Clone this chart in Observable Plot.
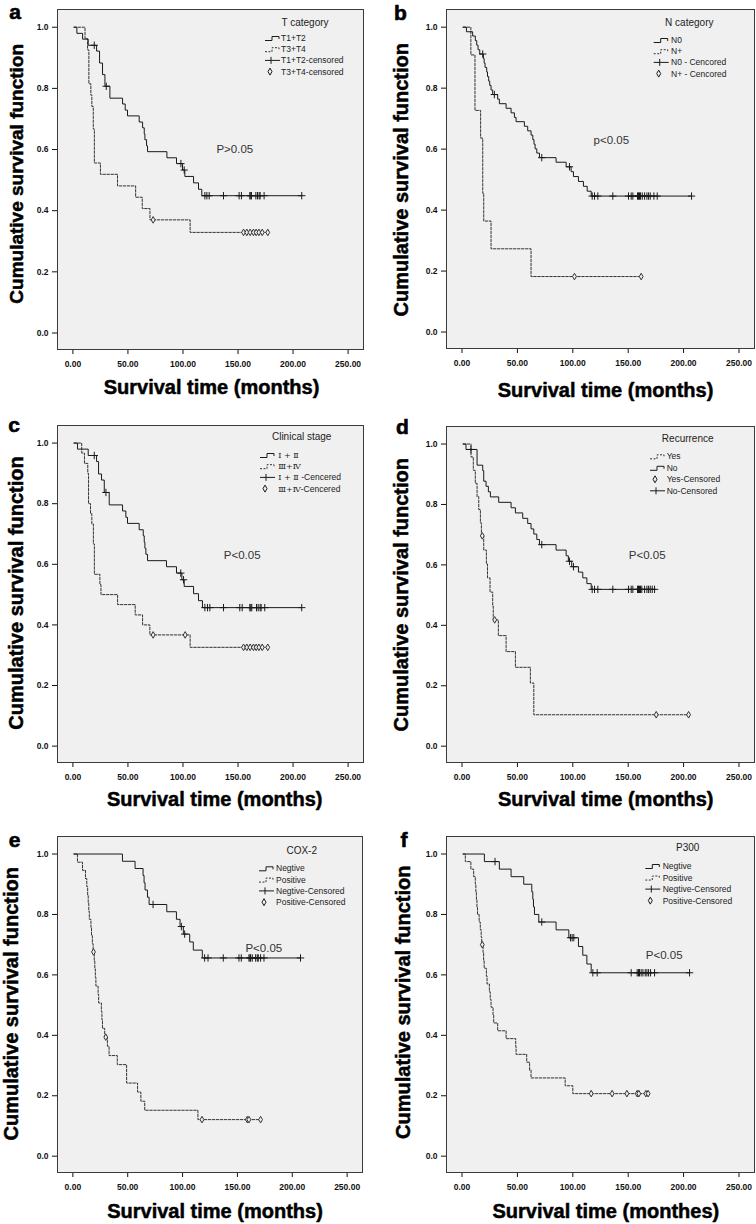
<!DOCTYPE html>
<html><head><meta charset="utf-8">
<script src="https://cdn.jsdelivr.net/npm/d3@7"></script>
<script src="https://cdn.jsdelivr.net/npm/@observablehq/plot@0.6"></script>
<style>
html,body{margin:0;padding:0;background:#fff;}
#page{position:relative;width:756px;height:1224px;overflow:hidden;background:#fff;}
.cell{position:absolute;}
.cell svg{overflow:visible;}
</style></head><body><div id="page"></div>
<script>
// ===================== DATA =====================
const xTicks = [0, 50, 100, 150, 200, 250];
const yTicks = [0, 0.2, 0.4, 0.6, 0.8, 1.0];
const xTitle = "Survival time (months)";
const xTitleF = "Survival time (monthes)";
const yTitle = "Cumulative survival function";
const panelLetters = ["a", "b", "c", "d", "e", "f"];
const legendTitles = ["T category", "N category", "Clinical stage", "Recurrence", "COX-2", "P300"];
const pTexts = ["P>0.05", "p<0.05", "P<0.05", "P<0.05", "P<0.05", "P<0.05"];
const aLabels = ["T1+T2", "T3+T4", "T1+T2-censored", "T3+T4-censored"];
const bLabels = ["N0", "N+", "N0 - Cencored", "N+ - Cencored"];
const cLabels = ["Ⅰ + Ⅱ", "Ⅲ+Ⅳ", "Ⅰ + Ⅱ -Cencered", "Ⅲ+Ⅳ-Cencered"];
const dLabels = ["Yes", "No", "Yes-Censored", "No-Censored"];
const eLabels = ["Negtive", "Positive", "Negtive-Censored", "Positive-Censored"];
const fLabels = ["Negtive", "Positive", "Negtive-Censored", "Positive-Censored"];

// Kaplan–Meier steps: [time (months), survival after the step]
const aT12 = [[1,1],[3.6,0.980],[8.8,0.961],[13.9,0.941],[21.5,0.922],[24.2,0.883],[26.9,0.845],[29.1,0.807],[33.6,0.768],[45.1,0.749],[47.5,0.729],[49.6,0.710],[60.2,0.690],[63.3,0.671],[64.8,0.651],[65.4,0.632],[66.9,0.612],[67.8,0.593],[85.4,0.573],[94.1,0.554],[99.6,0.533],[101.7,0.512],[109.6,0.491],[114.1,0.470],[117.1,0.449]];
const aT12Cens = [19.4,30.3,98.1,101.1,119.9,121.7,123.8,136.8,151.0,153.1,160.7,161.6,162.2,166.2,167.7,169.2,170.1,173.7,207.9];
const aT34 = [[1,1],[11,0.963],[13.3,0.926],[14.5,0.815],[16.3,0.778],[17.2,0.741],[18.5,0.667],[19.5,0.556],[25,0.519],[40.5,0.481],[57,0.444],[63,0.407],[70,0.370],[106.5,0.329]];
const aT34Cens = [72.9,155,158,161,164,166.5,169,172,177];

const bN0 = [[1,1],[4,0.985],[9.6,0.971],[12,0.956],[13.3,0.941],[14.5,0.926],[16,0.912],[19.3,0.897],[20,0.882],[20.8,0.868],[22.3,0.853],[23,0.838],[24.1,0.823],[25,0.809],[26.2,0.794],[27.7,0.779],[32.2,0.764],[33.7,0.749],[39.8,0.734],[44.3,0.719],[47.3,0.704],[48.8,0.690],[56.3,0.675],[59.3,0.660],[62.3,0.646],[63.9,0.631],[65,0.616],[66,0.601],[67.5,0.587],[69.9,0.572],[84.9,0.557],[94,0.542],[98.5,0.526],[100.6,0.510],[105.1,0.494],[109.6,0.478],[113,0.462],[116.6,0.446]];
const bN0Cens = [18.7,29.2,72,97,117.5,119.6,122.6,136.1,150.3,152.7,154.2,158.4,159.3,160.2,161.1,162.7,164.8,166.9,168.4,169.9,173.2,176.2,207.2];
const bNp = [[1,1],[8,0.909],[11.7,0.727],[16.8,0.636],[18.7,0.455],[19.6,0.364],[26.2,0.273],[62.3,0.182]];
const bNpCens = [101.5,161.7];

const cI2 = [[1,1],[4.2,0.980],[13.9,0.959],[21.5,0.939],[23.3,0.898],[26,0.878],[28.5,0.837],[33,0.796],[45.1,0.776],[48.1,0.755],[49.6,0.735],[60.2,0.714],[63.9,0.694],[64.8,0.673],[65.4,0.653],[66.3,0.633],[67.8,0.612],[85,0.592],[94.1,0.571],[99,0.549],[101.1,0.527],[109.6,0.503],[114.1,0.480],[117.7,0.457]];
const cI2Cens = [19.4,30,98,100.5,119.9,122.3,124.4,136.8,151.6,153.8,160.7,161.6,162.5,166.8,168.3,170.1,171,174.3,207.9];
const cIII4 = [[1,1],[8,0.967],[10.5,0.933],[13.5,0.900],[14.2,0.800],[16,0.767],[17.2,0.733],[18.6,0.667],[19.5,0.567],[24.5,0.533],[25.5,0.500],[40.6,0.467],[56.6,0.433],[63.3,0.400],[69.9,0.367],[106.5,0.326]];
const cIII4Cens = [72.9,102,155,158,161,164,166.5,169,172,177];

const dYes = [[1,1],[8.1,0.957],[10.2,0.913],[12,0.870],[13.6,0.826],[15.1,0.783],[16.6,0.739],[17.5,0.696],[19.6,0.649],[22,0.603],[23,0.557],[25.3,0.510],[27.7,0.464],[28.2,0.418],[32.8,0.366],[39.8,0.313],[48.2,0.261],[61.7,0.209],[64.8,0.104]];
const dYesCens = [18.3,29.5,175.3,204.5];
const dNo = [[1,1],[3.6,0.982],[13.6,0.930],[18.7,0.912],[19.6,0.877],[21.7,0.860],[23.8,0.842],[25.6,0.825],[33.1,0.807],[44.3,0.789],[48.2,0.772],[54.8,0.754],[59.3,0.737],[62.3,0.719],[64.8,0.702],[67.5,0.684],[69.9,0.667],[84.9,0.649],[94,0.630],[96,0.612],[99,0.594],[105.1,0.576],[109,0.557],[112.7,0.538],[116.6,0.519]];
const dNoCens = [8.1,72,97,100.6,117.5,119.6,122.6,136.1,150.3,152.7,154.2,158.4,159.3,160.2,161.1,162.3,164.8,166.9,168.4,169.9,171.7,173.8];

const eNeg = [[1,1],[45.2,0.976],[56.7,0.952],[64,0.929],[64.9,0.905],[65.8,0.881],[68,0.857],[69.5,0.833],[85.6,0.809],[94.4,0.784],[97.7,0.760],[100.7,0.735],[106.5,0.709],[109.8,0.682],[118,0.656]];
const eNegCens = [73.1,98.9,101.9,120.1,123.2,137.1,151.4,153.5,160.5,161.4,162,163.5,166.6,168.1,169,171.1,174.2,207.5];
const ePos = [[1,1],[4.2,0.973],[8.8,0.946],[11.5,0.919],[12.7,0.892],[13.5,0.865],[14,0.838],[14.5,0.811],[15,0.784],[16.5,0.757],[17,0.730],[17.8,0.703],[18.5,0.676],[19.5,0.648],[20,0.620],[20.5,0.592],[21,0.563],[23,0.535],[23.5,0.507],[26,0.479],[26.5,0.451],[27,0.423],[29,0.394],[31.5,0.364],[33,0.333],[40.5,0.303],[49,0.242],[59,0.212],[62,0.182],[65.5,0.152],[114,0.121]];
const ePosCens = [18.8,30,117.7,159,160.5,171.1];

const fNeg = [[1,1],[20.2,0.975],[33.7,0.950],[44.3,0.925],[55.7,0.900],[63,0.875],[63.9,0.850],[64.5,0.825],[65.4,0.800],[69.3,0.775],[84.9,0.749],[96.4,0.723],[105.1,0.694],[109,0.665],[112.7,0.636],[116.6,0.607]];
const fNegCens = [29.8,72,97.9,99.4,100.9,118.1,122,152.7,158.1,159.3,160.2,161.7,163.3,165.4,166.9,168.4,170.2,173.8,205.4];
const fPos = [[1,1],[3,0.975],[8,0.950],[10.5,0.925],[12,0.900],[12.5,0.875],[13,0.850],[13.5,0.825],[14,0.800],[15.5,0.775],[16.5,0.750],[17.3,0.725],[17.8,0.700],[19,0.674],[19.5,0.648],[20,0.622],[22,0.596],[22.6,0.570],[24.7,0.544],[25.5,0.519],[26.2,0.493],[28,0.467],[28.6,0.441],[32.2,0.415],[39.8,0.389],[48.5,0.363],[48.8,0.337],[58.4,0.311],[61,0.285],[62.3,0.259],[93.1,0.233],[100,0.207]];
const fPosCens = [18.3,116.6,135.5,148.8,158.1,159.6,166,168];

// ===================== LAYOUT / STYLE =====================
const FONT = "'Liberation Sans', Arial, Helvetica, sans-serif";
const BG = "#f0f0f0";
const panels = [
  {left: 0,   top: 0,   height: 405, m: [9, 15, 56, 57], solid: [aT12, aT12Cens], dashed: [aT34, aT34Cens], labels: aLabels, kinds: ["solid","dashed","plus","diamond"],
   letter: [-42.5, 9.8], p: [177.3, 135], xt: [1, 44], yt: [-34.3, -5.7], ytSize: 19, xTitle: xTitle,
   leg: {gx: -98, lx: -82, tx: -58, ty: 13, row0: 29, step: 11.2}},
  {left: 378, top: 0,   height: 405, m: [9, 2, 57, 68], solid: [bN0, bN0Cens], dashed: [bNp, bNpCens], labels: bLabels, kinds: ["solid","dashed","plus","diamond"],
   letter: [-46, 10], p: [164.8, 126.7], xt: [5, 48.7], yt: [-38.3, 0.7], ytSize: 20, xTitle: xTitle,
   leg: {gx: -100.3, lx: -83, tx: -64.7, ty: 13, row0: 31, step: 11.2}},
  {left: 0,   top: 405, height: 405, m: [20, 15, 48, 57], solid: [cI2, cI2Cens], dashed: [cIII4, cIII4Cens], labels: cLabels, kinds: ["solid","dashed","plus","diamond"],
   letter: [-43.3, 6.7], p: [184.7, 125.7], xt: [4.2, 43], yt: [-34.3, -1], ytSize: 20, xTitle: xTitle,
   leg: {gx: -103, lx: -84.7, tx: -61.3, ty: 11.7, row0: 30, step: 11.2}},
  {left: 378, top: 405, height: 405, m: [21, 2, 48, 68], solid: [dNo, dNoCens], dashed: [dYes, dYesCens], labels: dLabels, kinds: ["dashed","solid","diamond","plus"],
   letter: [-44.2, 7], p: [200.7, 124], xt: [5.2, 43], yt: [-38.3, 0.2], ytSize: 20, xTitle: xTitle,
   leg: {gx: -104, lx: -87.3, tx: -66.3, ty: 12.3, row0: 30.3, step: 11.5}},
  {left: 0,   top: 810, height: 414, m: [26, 16, 52, 57], solid: [eNeg, eNegCens], dashed: [ePos, ePosCens], labels: eLabels, kinds: ["solid","dashed","plus","diamond"],
   letter: [-43, 10.7], p: [206.3, 107.3], xt: [5, 45.3], yt: [-39.7, -0.7], ytSize: 20, xTitle: xTitle,
   leg: {gx: -103, lx: -86, tx: -60.3, ty: 14, row0: 32.3, step: 11.3}},
  {left: 378, top: 810, height: 414, m: [26, 2, 52, 68], solid: [fNeg, fNegCens], dashed: [fPos, fPosCens], labels: fLabels, kinds: ["solid","dashed","plus","diamond"],
   letter: [-42.5, 10.7], p: [217.7, 114.7], xt: [5.3, 45.3], yt: [-36.7, -2.3], ytSize: 20, xTitle: xTitleF,
   leg: {gx: -108.7, lx: -91.3, tx: -66.3, ty: 11.7, row0: 30, step: 11.55}}
];

// ===================== HELPERS =====================
function extendToLastCensor(steps, cens) {
  const last = steps[steps.length - 1];
  const tEnd = d3.max(cens);
  return tEnd > last[0] ? steps.concat([[tEnd, last[1]]]) : steps;
}
function survivalAt(steps, t) {
  let s = 1;
  for (const [st, sv] of steps) if (st <= t) s = sv;
  return s;
}
function legendMark(title, labels, kinds, L) {
  return function (index, scales, values, dim) {
    const fr = dim.width - dim.marginRight, ft = dim.marginTop;
    const g = d3.create("svg:g").attr("font-family", FONT).attr("font-weight", "normal")
      .attr("fill", "#222").attr("text-anchor", "start");
    g.append("text").attr("x", fr + L.tx).attr("y", ft + L.ty).attr("dy", "0.35em")
      .attr("text-anchor", "middle").attr("font-size", 10).text(title);
    kinds.forEach((k, i) => {
      const y = ft + L.row0 + i * L.step, x0 = fr + L.gx;
      const s = g.append("g").attr("fill", "none").attr("stroke", k === "dashed" ? "#333" : "#1a1a1a").attr("stroke-width", 1);
      if (k === "solid" || k === "dashed") {
        s.append("path").attr("d", `M${x0},${y + 2.5}H${x0 + 7}V${y - 1.5}H${x0 + 14}V${y + 1}`)
          .attr("stroke-dasharray", k === "dashed" ? "2,1.5" : null);
      } else if (k === "plus") {
        s.append("path").attr("d", `M${x0},${y}H${x0 + 15}M${x0 + 6},${y - 3.5}V${y + 3.5}`);
      } else {
        s.append("path").attr("d", `M${x0 + 5},${y - 3.5}L${x0 + 7},${y}L${x0 + 5},${y + 3.5}L${x0 + 3},${y}Z`);
      }
      const label = labels[i];
      const t = g.append("text").attr("x", fr + L.lx).attr("y", y).attr("dy", "0.35em")
        .attr("text-anchor", "start").attr("font-size", 8.5);
      if (/[\u2160-\u216F]/.test(label)) {
        const m = label.match(/^([^-]*)(-.*)?$/);
        t.append("tspan").attr("font-family", "'DejaVu Serif', 'Liberation Serif', serif").attr("font-size", 8).text(m[1]);
        if (m[2]) t.append("tspan").text(m[2]);
      } else t.text(label);
    });
    return g.node();
  };
}

// ===================== DRAW =====================
const page = document.getElementById("page");
panels.forEach((P, i) => {
  const [mt, mr, mb, ml] = P.m;
  const [sSteps, sCens] = P.solid;
  const [dSteps, dCens] = P.dashed;
  const chart = Plot.plot({
    width: 378, height: P.height,
    marginTop: mt, marginRight: mr, marginBottom: mb, marginLeft: ml,
    style: {fontFamily: FONT, fontSize: "8.5px", fontWeight: "bold", background: "transparent", color: "#111", overflow: "visible"},
    x: {domain: [-14, 264], ticks: xTicks, tickFormat: d3.format(".2f"), tickSize: 5, tickPadding: 6, label: null},
    y: {domain: [-0.054, 1.058], ticks: yTicks, tickFormat: d3.format(".1f"), tickSize: 5, tickPadding: 4, label: null},
    marks: [
      Plot.frame({fill: BG, stroke: "#3a3a3a"}),
      Plot.line(extendToLastCensor(dSteps, dCens), {x: d => d[0], y: d => d[1], curve: "step-after", stroke: "#333", strokeWidth: 1, strokeDasharray: "2.5,1.5"}),
      Plot.line(extendToLastCensor(sSteps, sCens), {x: d => d[0], y: d => d[1], curve: "step-after", stroke: "#1a1a1a", strokeWidth: 1}),
      Plot.dot(dCens, {x: d => d, y: d => survivalAt(dSteps, d), symbol: "diamond", r: 2, fill: BG, stroke: "#333", strokeWidth: 1}),
      Plot.dot(sCens, {x: d => d, y: d => survivalAt(sSteps, d), symbol: "plus", r: 2.5, stroke: "#1a1a1a", strokeWidth: 1}),
      Plot.text([pTexts[i]], {text: d => d, frameAnchor: "top-left", dx: P.p[0], dy: P.p[1], fontSize: 11.5, fontWeight: "normal", fill: "#333", textAnchor: "middle"}),
      Plot.text([panelLetters[i]], {text: d => d, frameAnchor: "top-left", dx: P.letter[0], dy: P.letter[1], fontSize: 21, fontWeight: "bold", fill: "#000", stroke: "#000", strokeWidth: 0.6, textAnchor: "middle", lineAnchor: "bottom"}),
      Plot.text([P.xTitle], {text: d => d, frameAnchor: "bottom", dx: P.xt[0], dy: P.xt[1], fontSize: 20, fontWeight: "bold", fill: "#000", stroke: "#000", strokeWidth: 0.5, textAnchor: "middle", lineAnchor: "bottom"}),
      Plot.text([yTitle], {text: d => d, frameAnchor: "left", dx: P.yt[0], dy: P.yt[1], rotate: -90, fontSize: P.ytSize, fontWeight: "bold", fill: "#000", stroke: "#000", strokeWidth: 0.5, textAnchor: "middle", lineAnchor: "bottom"}),
      legendMark(legendTitles[i], P.labels, P.kinds, P.leg)
    ]
  });
  const cell = document.createElement("div");
  cell.className = "cell";
  cell.style.left = P.left + "px";
  cell.style.top = P.top + "px";
  cell.style.width = "378px";
  cell.style.height = P.height + "px";
  cell.appendChild(chart);
  page.appendChild(cell);
});
</script>
</body></html>
